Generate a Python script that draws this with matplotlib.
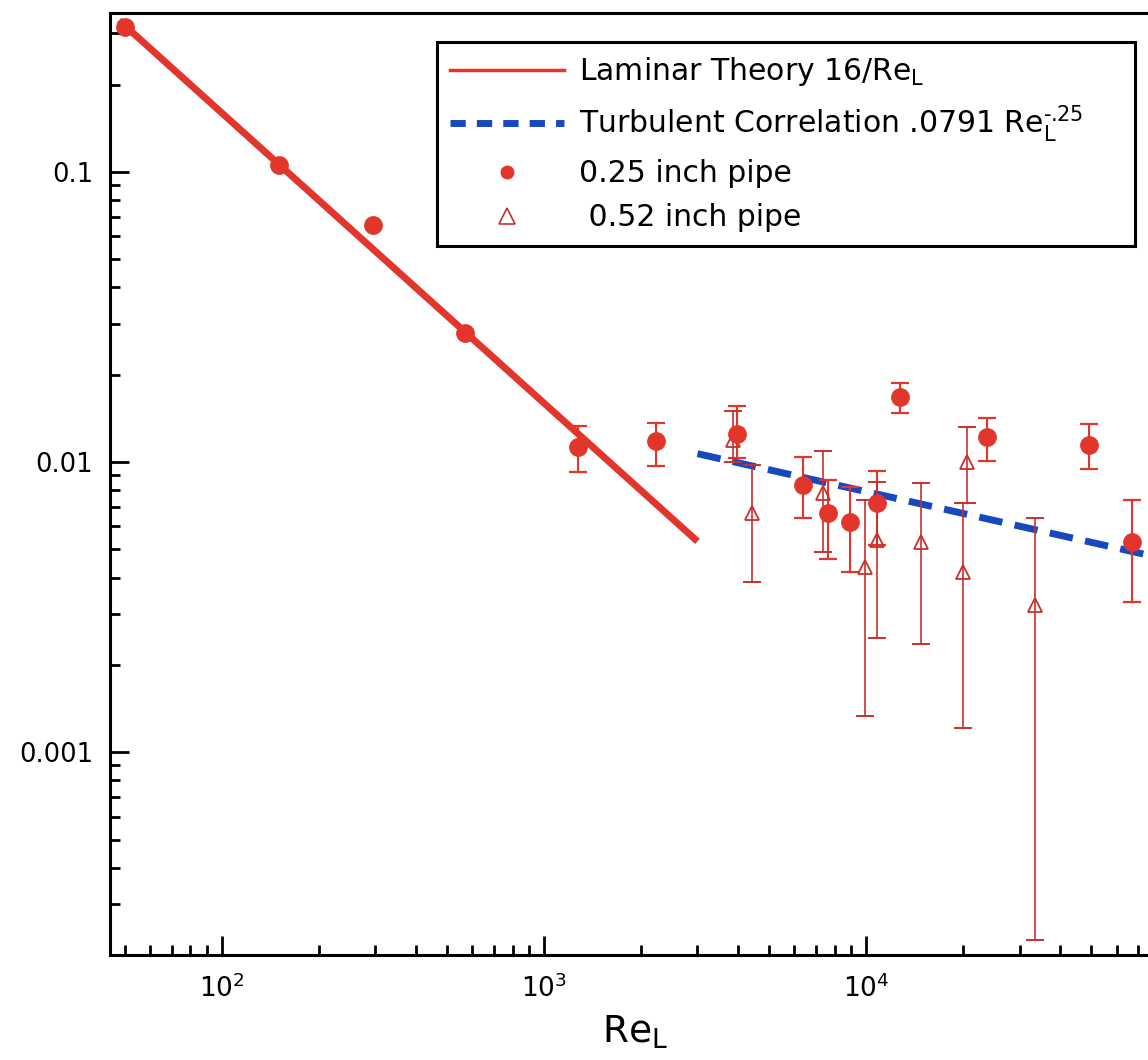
"""
Friction factor vs Reynolds number (log-log) with laminar / turbulent lines
"""

import numpy as np
import matplotlib
matplotlib.use('Agg')
import matplotlib.pyplot as plt
from matplotlib.lines import Line2D
from matplotlib.ticker import FixedLocator, FixedFormatter, LogLocator, NullFormatter

# theory lines (end points)
laminar_re = [48, 3000]
laminar_f = [0.333, 0.00533]
turb_re = [3000, 100000]
turb_f = [0.01069, 0.00445]

# 0.25 inch pipe (filled circles)
circ_re = [50, 151, 294, 569, 1276, 2229, 3975, 6370, 7620, 8920, 10820, 12750, 23760, 49300, 67000]
circ_f = [0.316, 0.106, 0.0657, 0.0279, 0.0113, 0.0118, 0.0125, 0.00834, 0.00667, 0.00621,
          0.00723, 0.01675, 0.0122, 0.01146, 0.0053]
circ_hi = [None, None, None, None, 0.0133, 0.01365, 0.0156, 0.0104, 0.00867, 0.0082,
           0.00928, 0.0187, 0.0142, 0.0135, 0.0074]
circ_lo = [None, None, None, None, 0.00925, 0.0097, 0.0103, 0.00641, 0.00463, 0.00418,
           0.00518, 0.01476, 0.0101, 0.00946, 0.00329]

# 0.52 inch pipe (open triangles)
tri_re = [3870, 4425, 7350, 9930, 10820, 14830, 20600, 20000, 33500]
tri_f = [0.0119, 0.00667, 0.00782, 0.00435, 0.00538, 0.0053, 0.0100, 0.00418, 0.00321]
tri_hi = [0.0150, 0.0098, 0.0109, 0.0074, 0.00853, 0.0085, 0.0132, 0.00723, 0.00641]
tri_lo = [0.0100, 0.00386, 0.0049, 0.00133, 0.00247, 0.00236, 0.00723, 0.00121, 0.000225]

x_ticks = [1e2, 1e3, 1e4]
y_ticks = [0.001, 0.01, 0.1]
y_labels = ['0.001', '0.01', '0.1']

RED = '#e2352b'
DARK_RED = '#c8302c'
BLUE = '#1848c0'

W, H = 1148, 1060
fig = plt.figure(figsize=(W / 100, H / 100), dpi=100)
left, right, bottom, top = 110, 1188, 955, 13
ax = fig.add_axes([left / W, (H - bottom) / H, (right - left) / W, (bottom - top) / H])
ax.set_xscale('log')
ax.set_yscale('log')
ax.set_xlim(45, 1e5)
ax.set_ylim(2.0e-4, 0.353)

# lines
ax.plot(laminar_re, laminar_f, color=RED, lw=5, solid_capstyle='butt', zorder=2)
ax.plot(turb_re, turb_f, color=BLUE, lw=5, dashes=(3.4, 1.8), zorder=2)

# circles
circ_re = np.array(circ_re)
circ_f = np.array(circ_f)
has_err = np.array([v is not None for v in circ_hi])
hi = np.array([v if v is not None else 0 for v in circ_hi])
lo = np.array([v if v is not None else 0 for v in circ_lo])
yerr = np.vstack([circ_f[has_err] - lo[has_err], hi[has_err] - circ_f[has_err]])
ax.errorbar(circ_re[has_err], circ_f[has_err], yerr=yerr, fmt='none', ecolor=RED,
            elinewidth=1.5, capsize=6.5, capthick=1.6, zorder=3)
ax.plot(circ_re, circ_f, 'o', color=RED, ms=12.5, mec=RED, zorder=5)

# triangles
tri_f_a = np.array(tri_f)
yerr_t = np.vstack([tri_f_a - np.array(tri_lo), np.array(tri_hi) - tri_f_a])
ax.errorbar(tri_re, tri_f, yerr=yerr_t, fmt='none', ecolor=DARK_RED,
            elinewidth=1.2, capsize=6.5, capthick=1.4, zorder=3)
ax.plot(tri_re, tri_f, '^', mfc='none', mec=DARK_RED, mew=1.3, ms=10.5, zorder=4)

# axes styling
for side in ['left', 'bottom', 'top']:
    ax.spines[side].set_linewidth(2.2)
ax.spines['right'].set_visible(False)
ax.xaxis.set_major_locator(FixedLocator(x_ticks))
ax.yaxis.set_major_locator(FixedLocator(y_ticks))
ax.yaxis.set_major_formatter(FixedFormatter(y_labels))
ax.yaxis.set_minor_locator(LogLocator(base=10, subs=np.arange(2, 10)))
ax.yaxis.set_minor_formatter(NullFormatter())
ax.xaxis.set_minor_locator(LogLocator(base=10, subs=np.arange(2, 10)))
ax.xaxis.set_minor_formatter(NullFormatter())
ax.tick_params(which='both', direction='in', top=False, right=False, width=2.0, color='black')
ax.tick_params(which='major', length=14)
ax.tick_params(which='minor', length=7)
ax.tick_params(axis='y', which='major', labelsize=18.5, pad=12)
ax.tick_params(axis='x', which='major', labelsize=19, pad=14)

ax.set_xlabel(r'Re$_\mathregular{L}$', fontsize=27)
ax.xaxis.set_label_coords((635 - left) / (right - left), -0.062)

# legend
handles = [
    Line2D([], [], color=RED, lw=2.5),
    Line2D([], [], color=BLUE, lw=5, dashes=(2.2, 1.6)),
    Line2D([], [], ls='none', marker='o', color=RED, ms=9),
    Line2D([], [], ls='none', marker='^', mfc='none', mec=DARK_RED, mew=1.2, ms=11),
]
labels = [
    r'Laminar Theory 16/Re$_\mathregular{L}$',
    r'Turbulent Correlation .0791 Re$_\mathregular{L}^\text{-.25}$',
    '0.25 inch pipe',
    ' 0.52 inch pipe',
]
leg = fig.legend(handles, labels, loc='upper left',
                 bbox_to_anchor=(437 / W, 1 - 238 / H, (1135 - 437) / W, 196 / H),
                 mode='expand', borderaxespad=0,
                 fontsize=21.5, handlelength=3.8, handletextpad=0.5,
                 labelspacing=0.5, borderpad=0.45, fancybox=False,
                 framealpha=1, edgecolor='black')
leg.get_frame().set_linewidth(2.2)

fig.savefig('out.png', dpi=100)
